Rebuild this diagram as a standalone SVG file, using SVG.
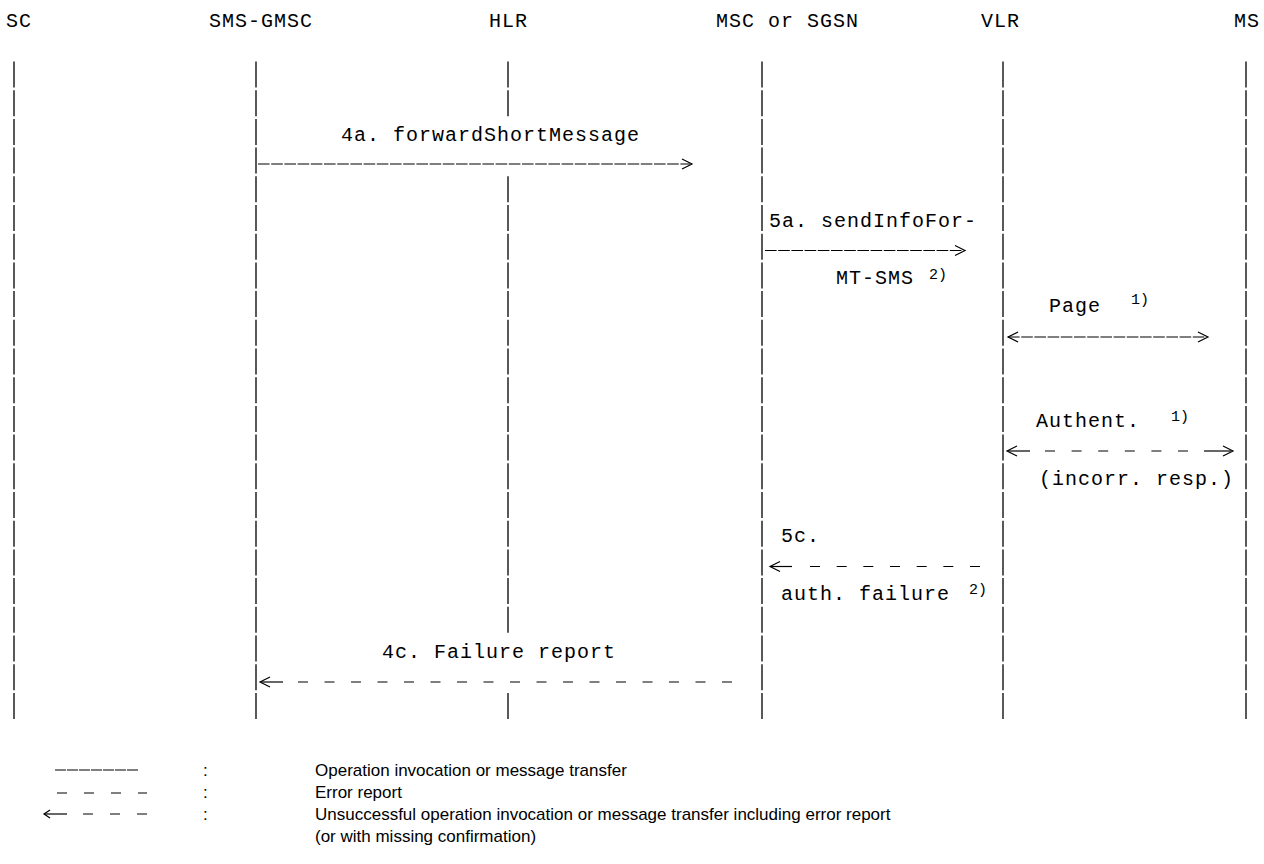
<svg xmlns="http://www.w3.org/2000/svg" width="1264" height="864" viewBox="0 0 1264 864">
<style>
.m{font-family:"Liberation Mono","Courier New",monospace;font-size:20px;letter-spacing:1px;fill:#000}
.s{font-family:"Liberation Mono","Courier New",monospace;font-size:15px;fill:#000}
.l{font-family:"Liberation Sans",Arial,sans-serif;font-size:17px;fill:#000}
.life{stroke:#000;stroke-width:1.3;stroke-dasharray:26 2.7;fill:none}
.sol{stroke:#000;stroke-width:1.2;stroke-dasharray:11.6 1.6;fill:none}
.dsh{stroke:#000;stroke-width:1.2;fill:none}
.hd{stroke:#000;stroke-width:1.2;fill:none}
</style>
<rect width="1264" height="864" fill="#fff"/>
<g id="SC">
<text class="m" x="6" y="27">SC</text>
<line class="life" x1="14" y1="61.5" x2="14" y2="721.6"/>
</g>
<g id="SMS-GMSC">
<text class="m" x="209" y="27">SMS-GMSC</text>
<line class="life" x1="256" y1="61.5" x2="256" y2="721.6"/>
</g>
<g id="HLR">
<text class="m" x="489" y="27">HLR</text>
<line class="life" x1="508" y1="61.5" x2="508" y2="118.9"/>
<line class="life" x1="508" y1="176.3" x2="508" y2="635.5"/>
<line class="life" x1="508" y1="692.9" x2="508" y2="721.6"/>
</g>
<g id="MSC">
<text class="m" x="716" y="27">MSC or SGSN</text>
<line class="life" x1="762" y1="61.5" x2="762" y2="721.6"/>
</g>
<g id="VLR">
<text class="m" x="981" y="27">VLR</text>
<line class="life" x1="1003" y1="61.5" x2="1003" y2="721.6"/>
</g>
<g id="MS">
<text class="m" x="1234" y="27">MS</text>
<line class="life" x1="1246" y1="61.5" x2="1246" y2="721.6"/>
</g>
<g id="connectors">
<!-- 4a forwardShortMessage -->
<text class="m" x="341" y="140.5">4a. forwardShortMessage</text>
<line class="sol" x1="258" y1="164" x2="690" y2="164"/>
<polyline class="hd" points="682,159 692,164 682,169"/>
<!-- 5a sendInfoFor-MT-SMS -->
<text class="m" x="769" y="226.5">5a. sendInfoFor-</text>
<line class="sol" x1="765" y1="250.5" x2="963" y2="250.5"/>
<polyline class="hd" points="955,245.5 965,250.5 955,255.5"/>
<text class="m" x="836" y="284">MT-SMS</text>
<text class="s" x="929" y="279">2)</text>
<!-- Page -->
<text class="m" x="1049" y="312">Page</text>
<text class="s" x="1131" y="304">1)</text>
<line class="sol" x1="1008" y1="337" x2="1206" y2="337"/>
<polyline class="hd" points="1018,332 1008,337 1018,342"/>
<polyline class="hd" points="1198,332 1208,337 1198,342"/>
<!-- Authent -->
<text class="m" x="1036" y="427">Authent.</text>
<text class="s" x="1171" y="421">1)</text>
<polyline class="hd" points="1017,446 1007,451 1017,456"/>
<line class="dsh" x1="1008" y1="451" x2="1030" y2="451"/>
<line class="dsh" x1="1045" y1="451" x2="1200" y2="451" stroke-dasharray="10 16.6"/>
<line class="dsh" x1="1204" y1="451" x2="1231" y2="451"/>
<polyline class="hd" points="1223,446 1233,451 1223,456"/>
<text class="m" x="1039" y="484.5">(incorr. resp.)</text>
<!-- 5c auth failure -->
<text class="m" x="781" y="542">5c.</text>
<polyline class="hd" points="780,561.5 770,566.5 780,571.5"/>
<line class="dsh" x1="771" y1="566.5" x2="792" y2="566.5"/>
<line class="dsh" x1="810" y1="566.5" x2="980" y2="566.5" stroke-dasharray="10 16.67"/>
<text class="m" x="781" y="600">auth. failure</text>
<text class="s" x="969" y="594">2)</text>
<!-- 4c Failure report -->
<text class="m" x="382" y="658">4c. Failure report</text>
<polyline class="hd" points="270,677 260,682 270,687"/>
<line class="dsh" x1="261" y1="682" x2="283" y2="682"/>
<line class="dsh" x1="298" y1="682" x2="741" y2="682" stroke-dasharray="10 16.5"/>
</g>
<g id="legend">
<line class="dsh" x1="55" y1="770" x2="138" y2="770" stroke-dasharray="11 1"/>
<line class="dsh" x1="57" y1="793" x2="147" y2="793" stroke-dasharray="10 17"/>
<polyline class="hd" points="50,810 44,814 50,818"/>
<line class="dsh" x1="45" y1="814" x2="67" y2="814"/>
<line class="dsh" x1="83" y1="814" x2="147" y2="814" stroke-dasharray="10 17"/>
<text class="l" x="203" y="776">:</text>
<text class="l" x="203" y="798">:</text>
<text class="l" x="203" y="820">:</text>
<text class="l" x="315" y="776">Operation invocation or message transfer</text>
<text class="l" x="315" y="798">Error report</text>
<text class="l" x="315" y="820">Unsuccessful operation invocation or message transfer including error report</text>
<text class="l" x="315" y="842">(or with missing confirmation)</text>
</g>
</svg>
